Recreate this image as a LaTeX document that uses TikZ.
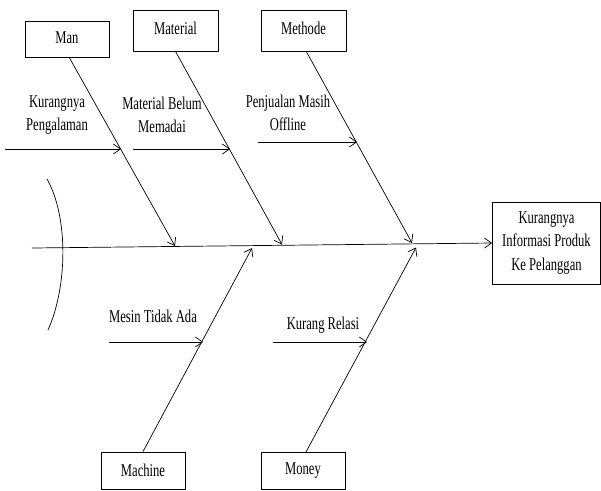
\documentclass[tikz,border=0pt]{standalone}
\usepackage{fontspec}
\setmainfont[FakeStretch=0.7]{Liberation Serif}
\usetikzlibrary{arrows.meta}
\begin{document}
\begin{tikzpicture}[x=1pt,y=-1pt,
  txt/.style={font=\fontsize{18}{23.4}\selectfont, align=center, inner sep=0pt},
  catbox/.style={draw, line width=0.8pt, font=\fontsize{18}{23.4}\selectfont, inner sep=0pt, align=center},
  bone/.style={line width=0.7pt, -{Straight Barb[length=7pt,width=10pt]}},
]
\useasboundingbox (0,0) rectangle (601,490);
% category boxes
\node[catbox, minimum width=84pt, minimum height=36pt] (man) at (67,39) {\raisebox{2pt}{Man}};
\node[catbox, minimum width=85pt, minimum height=41pt] (material) at (175.5,30.5) {\raisebox{4pt}{Material}};
\node[catbox, minimum width=85pt, minimum height=41pt] (methode) at (303.5,30.5) {\raisebox{4pt}{Methode}};
\node[catbox, minimum width=84pt, minimum height=37pt] (machine) at (143,470.5) {\raisebox{1pt}{Machine}};
\node[catbox, minimum width=84pt, minimum height=37pt] (money) at (303,470.5) {\raisebox{1pt}{Money}};
\node[catbox, minimum width=108pt, minimum height=82pt] (effect) at (546.5,243) {Kurangnya\\Informasi Produk\\Ke Pelanggan};
% spine
\coordinate (tail) at (32,248);
\draw[bone] (tail) -- (effect.west);
% spine points
\coordinate (pMan) at (175,246);
\coordinate (pMat) at (282,244.5);
\coordinate (pMet) at (412,243);
\coordinate (pMac) at (252,248);
\coordinate (pMon) at (416,247.5);
% bones
\draw[bone] (69,57) coordinate (sMan) -- (pMan);
\draw[bone] (material.south) -- (pMat);
\draw[bone] (306,51) coordinate (sMet) -- (pMet);
\draw[bone] (machine.north) -- (pMac);
\draw[bone] (306,452) coordinate (sMon) -- (pMon);
% sub causes
\coordinate (a1) at (5,149);   \coordinate (b1) at (121,149);
\coordinate (a2) at (133,149); \coordinate (b2) at (230,149);
\coordinate (a3) at (258,142); \coordinate (b3) at (357,142);
\coordinate (a4) at (109,342); \coordinate (b4) at (203,342);
\coordinate (a5) at (273,342); \coordinate (b5) at (367,342);
\draw[bone] (a1) -- (b1);
\draw[bone] (a2) -- (b2);
\draw[bone] (a3) -- (b3);
\draw[bone] (a4) -- (b4);
\draw[bone] (a5) -- (b5);
% labels
\node[txt] (l1) at (57,115) {Kurangnya\\Pengalaman};
\node[txt] (l2) at (162,115) {Material Belum\\Memadai};
\node[txt] (l3) at (288,113) {Penjualan Masih\\Offline};
\node[txt] (l4) at (153,316) {Mesin Tidak Ada};
\node[txt] (l5) at (323,325) {Kurang Relasi};
% head arc
\draw[line width=0.7pt] (47,179) .. controls (69,218) and (67,288) .. (48,330);
\end{tikzpicture}
\end{document}
